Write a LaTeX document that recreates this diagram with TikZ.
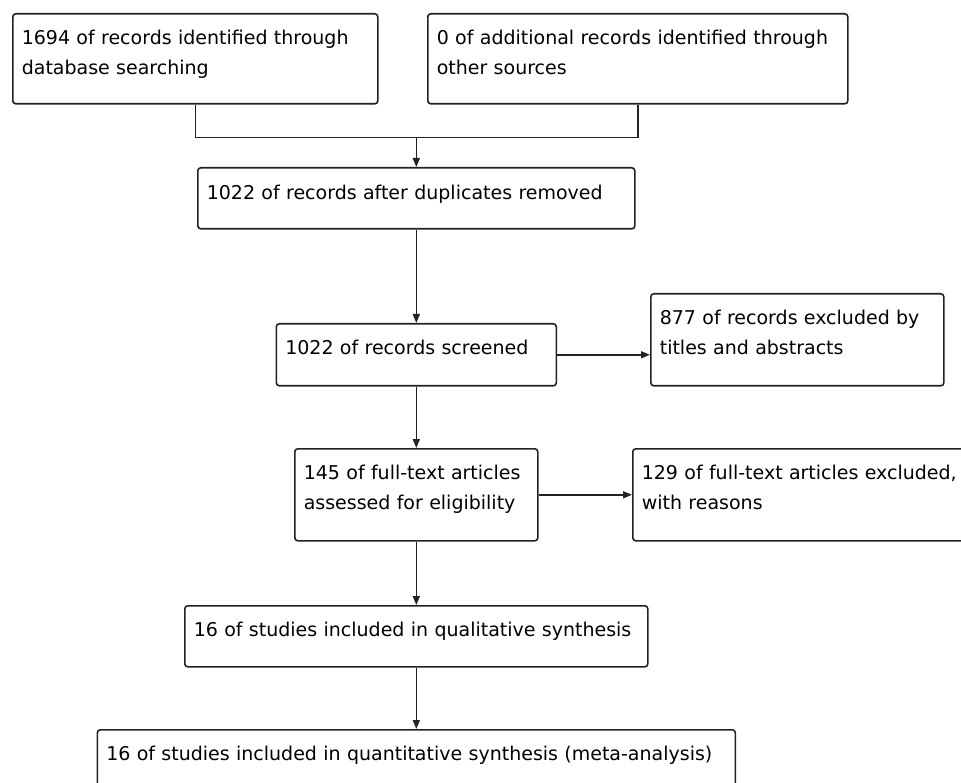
\documentclass[tikz,border=0pt]{standalone}
\usepackage{fontspec}
\setmainfont{DejaVu Sans}
\usetikzlibrary{arrows.meta,positioning}
\definecolor{boxline}{RGB}{34,34,34}

\tikzset{
  flowbox/.style={draw=boxline, line width=1.6pt, rounded corners=3pt, anchor=north west,
    align=left, inner xsep=9pt, inner ysep=0pt, text height=31pt,
    font=\fontsize{19}{30}\selectfont},
  flowline/.style={draw=boxline, line width=1.6pt},
  flowarrow/.style={flowline, -{Triangle[length=9pt,width=7pt]}}
}

\begin{document}
\begin{tikzpicture}[x=1pt,y=-1pt]
  \clip (0,0) rectangle (961,783);

  % identification
  \node[flowbox, text width=347pt, text depth=59pt] (database) at (12,13) {1694 of records identified through\\database searching};
  \node[flowbox, text width=402pt, text depth=59pt] (sources) at (427,13) {0 of additional records identified through\\other sources};
  \node[flowbox, text width=419pt, text depth=29pt, text height=32pt] (dupl) at (197,167) {1022 of records after duplicates removed};

  % screening
  \node[flowbox, text width=262pt, text depth=31pt] (screen) at (275.5,323) {1022 of records screened};
  \node[flowbox, text width=275pt, text depth=61pt] (titles) at (650,293) {877 of records excluded by\\titles and abstracts};

  % eligibility
  \node[flowbox, text width=225pt, text depth=61pt] (fulltext) at (294,448) {145 of full-text articles\\assessed for eligibility};
  \node[flowbox, text width=342pt, text depth=61pt] (reasons) at (632,448) {129 of full-text articles excluded,\\with reasons};

  % included
  \node[flowbox, text width=445pt, text depth=30pt] (qual) at (184,605) {16 of studies included in qualitative synthesis};
  \node[flowbox, text width=620pt, text depth=30pt] (quant) at (96.5,729) {16 of studies included in quantitative synthesis (meta-analysis)};

  % connectors
  \path (database.south) ++(0,33) coordinate (merge);
  \draw[flowline] (database.south) -- (merge) -| (sources.south);
  \draw[flowarrow] (dupl.north |- merge) -- (dupl.north);
  \draw[flowarrow] (dupl.south) -- (screen.north);
  \draw[flowarrow] (screen.east) -- (screen.east -| titles.west);
  \draw[flowarrow] (screen.south) -- (fulltext.north);
  \draw[flowarrow] (fulltext.east) -- (fulltext.east -| reasons.west);
  \draw[flowarrow] (fulltext.south) -- (qual.north);
  \draw[flowarrow] (qual.south) -- (quant.north);
\end{tikzpicture}
\end{document}
